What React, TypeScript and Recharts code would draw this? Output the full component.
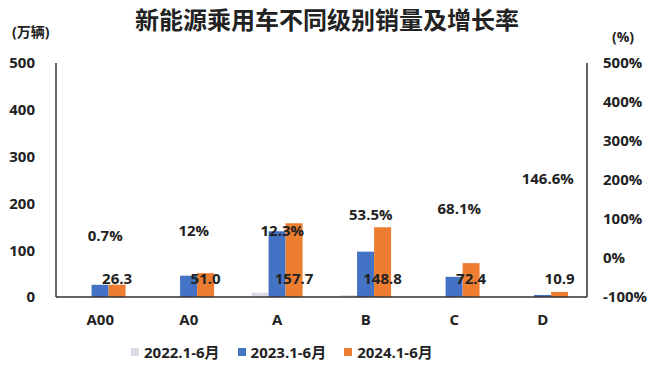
import React from 'react';
import { ComposedChart, Bar, Line, XAxis, YAxis, LabelList } from 'recharts';

const categories = ['A00', 'A0', 'A', 'B', 'C', 'D'];
const sales2022 = [1, 1, 9, 4, 1, 0.5];
const sales2023 = [26.1, 45.5, 140.4, 96.9, 43.1, 4.4];
const sales2024 = [26.3, 51.0, 157.7, 148.8, 72.4, 10.9];
const growthRate = [0.7, 12, 12.3, 53.5, 68.1, 146.6];
const leftTicks = [0, 100, 200, 300, 400, 500];
const rightTicks = [-100, 0, 100, 200, 300, 400, 500];
const seriesNames = ['2022.1-6月', '2023.1-6月', '2024.1-6月'];
const seriesColors = ['#dadde7', '#4472c4', '#ed7d31'];

const FONT = '"Open Sans", "Noto Sans CJK SC", sans-serif';
const TEXT = '#222';

const data = categories.map((c, i) => ({
  cat: c,
  s2022: sales2022[i],
  s2023: sales2023[i],
  s2024: sales2024[i],
  growth: growthRate[i],
}));

const BarValueLabel = (props: any) => {
  const { x, y, width, height, value } = props;
  const base = Number(y) + Number(height);
  return (
    <text
      x={Number(x) + Number(width) / 2}
      y={base - 19}
      textAnchor="middle"
      dominantBaseline="central"
      fontSize={15}
      fontWeight={700}
      fill={TEXT}
      fontFamily={FONT}
    >
      {Number(value).toFixed(1)}
    </text>
  );
};

const GrowthLabel = (props: any) => {
  const { x, y, value } = props;
  return (
    <text
      x={Number(x) + 5}
      y={Number(y) - 23}
      textAnchor="middle"
      dominantBaseline="central"
      fontSize={15}
      fontWeight={700}
      fill={TEXT}
      fontFamily={FONT}
    >
      {`${value}%`}
    </text>
  );
};

const tickStyle = { fontSize: 15, fontWeight: 700, fill: TEXT, fontFamily: FONT };
const axisLineStyle = { stroke: '#333', strokeWidth: 1.5 };

export default function App() {
  return (
    <div
      style={{
        position: 'absolute',
        left: 0,
        top: 0,
        width: 660,
        height: 367,
        background: '#fff',
        fontFamily: FONT,
        color: TEXT,
        overflow: 'hidden',
      }}
    >
      <div
        style={{
          position: 'absolute',
          left: 0,
          top: 8,
          width: 654,
          textAlign: 'center',
          fontSize: 24,
          lineHeight: '24px',
          fontWeight: 700,
        }}
      >
        新能源乘用车不同级别销量及增长率
      </div>
      <div style={{ position: 'absolute', left: 12, top: 23, fontSize: 14, lineHeight: '18px', fontWeight: 700 }}>
        (万辆)
      </div>
      <div style={{ position: 'absolute', left: 612, top: 28, fontSize: 14, lineHeight: '18px', fontWeight: 700 }}>
        (%)
      </div>
      <ComposedChart
        width={660}
        height={367}
        data={data}
        margin={{ top: 63, right: 0, bottom: 30, left: 0 }}
        barCategoryGap="21%"
        barGap={0}
      >
        <XAxis
          dataKey="cat"
          axisLine={axisLineStyle}
          tickLine={false}
          tickMargin={11}
          height={40}
          tick={tickStyle}
        />
        <YAxis
          yAxisId="left"
          domain={[0, 500]}
          ticks={leftTicks}
          width={56}
          axisLine={axisLineStyle}
          tickLine={false}
          tickSize={6}
          tickMargin={15}
          tick={tickStyle}
          interval={0}
        />
        <YAxis
          yAxisId="right"
          orientation="right"
          domain={[-100, 500]}
          ticks={rightTicks}
          width={73}
          axisLine={axisLineStyle}
          tickLine={false}
          tickSize={6}
          tickMargin={10}
          tick={{ ...tickStyle, textAnchor: 'start' }}
          tickFormatter={(v: number) => `${v}%`}
          interval={0}
        />
        <Bar yAxisId="left" dataKey="s2022" fill={seriesColors[0]} isAnimationActive={false} />
        <Bar yAxisId="left" dataKey="s2023" fill={seriesColors[1]} isAnimationActive={false} />
        <Bar yAxisId="left" dataKey="s2024" fill={seriesColors[2]} isAnimationActive={false}>
          <LabelList dataKey="s2024" content={BarValueLabel} />
        </Bar>
        <Line
          yAxisId="right"
          dataKey="growth"
          stroke="none"
          dot={false}
          activeDot={false}
          isAnimationActive={false}
        >
          <LabelList dataKey="growth" content={GrowthLabel} />
        </Line>
      </ComposedChart>
      <div
        style={{
          position: 'absolute',
          left: 131,
          top: 343,
          display: 'flex',
          alignItems: 'center',
          fontSize: 15,
          lineHeight: '18px',
          fontWeight: 700,
        }}
      >
        {seriesNames.map((n, i) => (
          <div key={n} style={{ display: 'flex', alignItems: 'center', marginRight: 18 }}>
            <span style={{ width: 8, height: 8, background: seriesColors[i], marginRight: 5, display: 'inline-block' }} />
            <span>{n}</span>
          </div>
        ))}
      </div>
    </div>
  );
}
